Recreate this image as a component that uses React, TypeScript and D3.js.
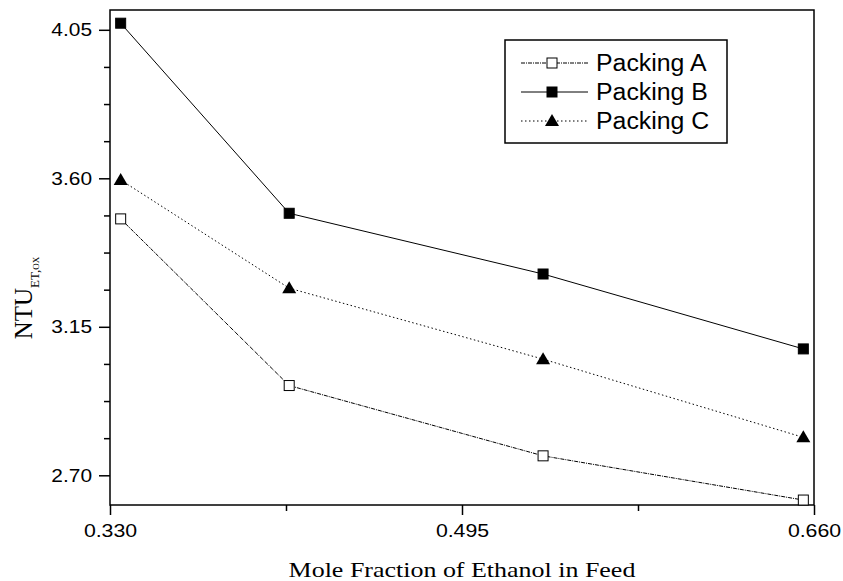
import React, { useEffect, useRef } from 'react';
import * as d3 from 'd3';

// values
const feedFraction = [0.335, 0.414, 0.533, 0.655];
const packingA = [3.477, 2.972, 2.759, 2.625];
const packingB = [4.07, 3.494, 3.31, 3.083];
const packingC = [3.595, 3.267, 3.052, 2.815];
const seriesNames = ['Packing A', 'Packing B', 'Packing C'];
const xMajorTicks = [0.33, 0.495, 0.66];
const xMinorTicks = [0.4125, 0.5775];
const yMajorTicks = [2.7, 3.15, 3.6, 4.05];
const yMinorTicks = [2.8125, 2.925, 3.0375, 3.2625, 3.375, 3.4875, 3.7125, 3.825, 3.9375];

const SANS = '"Liberation Sans", Arial, sans-serif';
const SERIF = '"Liberation Serif", "Times New Roman", serif';

// the reference picture is a bit wider than tall, so text is stretched sideways
const stretch = (sel: any, k: number) =>
  sel.each(function (this: SVGTextElement) {
    const w = this.getComputedTextLength();
    d3.select(this).attr('textLength', w * k).attr('lengthAdjust', 'spacingAndGlyphs');
  });

const App = () => {
  const svgRef = useRef<SVGSVGElement>(null);

  useEffect(() => {
    const svg = d3.select(svgRef.current);
    svg.selectAll('*').remove();

    const margin = { top: 10, right: 29, bottom: 76, left: 110 };
    const W = 843, H = 581;
    const width = W - margin.left - margin.right;
    const height = H - margin.top - margin.bottom;

    const x = d3.scaleLinear().domain([0.33, 0.66]).range([0, width]);
    const y = d3.scaleLinear().domain([2.61, 4.11]).range([height, 0]);

    const g = svg.append('g').attr('transform', `translate(${margin.left},${margin.top})`);

    // minor ticks
    g.append('g')
      .attr('transform', `translate(0,${height})`)
      .call(d3.axisBottom(x).tickValues(xMinorTicks).tickSize(6).tickFormat(() => ''))
      .call(a => a.select('.domain').remove())
      .selectAll('line').attr('stroke-width', 1.5);
    g.append('g')
      .call(d3.axisLeft(y).tickValues(yMinorTicks).tickSize(6).tickFormat(() => ''))
      .call(a => a.select('.domain').remove())
      .selectAll('line').attr('stroke-width', 1.5);

    // major ticks + labels
    const xAxis = g.append('g')
      .attr('transform', `translate(0,${height})`)
      .call(d3.axisBottom(x).tickValues(xMajorTicks).tickSize(10).tickPadding(9).tickFormat(d3.format('.3f')));
    xAxis.select('.domain').remove();
    xAxis.selectAll('line').attr('stroke-width', 1.5);
    xAxis.selectAll('text').style('font-family', SANS).style('font-size', '19px').attr('fill', '#000')
      .call(stretch, 1.12);

    const yAxis = g.append('g')
      .call(d3.axisLeft(y).tickValues(yMajorTicks).tickSize(11).tickPadding(7).tickFormat(d3.format('.2f')));
    yAxis.select('.domain').remove();
    yAxis.selectAll('line').attr('stroke-width', 1.5);
    yAxis.selectAll('text').style('font-family', SANS).style('font-size', '19px').attr('fill', '#000')
      .call(stretch, 1.1);

    // frame
    g.append('rect')
      .attr('width', width).attr('height', height)
      .attr('fill', 'none').attr('stroke', '#000').attr('stroke-width', 1.5);

    const series = [
      { name: seriesNames[0], values: packingA, dash: '4,1,1,1', marker: 'open' },
      { name: seriesNames[1], values: packingB, dash: null, marker: 'square' },
      { name: seriesNames[2], values: packingC, dash: '1.5,2.5', marker: 'triangle' },
    ];

    const line = d3.line<number>()
      .x((d, i) => x(feedFraction[i]))
      .y(d => y(d));

    const drawMarker = (sel: any, kind: string, cx: number, cy: number) => {
      if (kind === 'triangle') {
        sel.append('path')
          .attr('d', `M${cx},${cy - 7} L${cx + 7},${cy + 5} L${cx - 7},${cy + 5} Z`)
          .attr('fill', '#000');
      } else {
        sel.append('rect')
          .attr('x', cx - 5).attr('y', cy - 5).attr('width', 10).attr('height', 10)
          .attr('fill', kind === 'open' ? '#fff' : '#000')
          .attr('stroke', '#000').attr('stroke-width', 1);
      }
    };

    series.forEach(s => {
      g.append('path')
        .datum(s.values)
        .attr('d', line)
        .attr('fill', 'none')
        .attr('stroke', '#000')
        .attr('stroke-width', 1)
        .attr('stroke-dasharray', s.dash);
      s.values.forEach((v, i) => drawMarker(g, s.marker, x(feedFraction[i]), y(v)));
    });

    // legend
    const legend = svg.append('g');
    legend.append('rect')
      .attr('x', 505).attr('y', 40).attr('width', 222).attr('height', 103)
      .attr('fill', '#fff').attr('stroke', '#000').attr('stroke-width', 1.5);
    series.forEach((s, i) => {
      const ly = 63 + i * 29;
      legend.append('line')
        .attr('x1', 521).attr('x2', 588).attr('y1', ly).attr('y2', ly)
        .attr('stroke', '#000').attr('stroke-width', 1)
        .attr('stroke-dasharray', s.dash);
      drawMarker(legend, s.marker, 552, ly);
      legend.append('text')
        .attr('x', 596).attr('y', ly + 8)
        .style('font-family', SANS).style('font-size', '23px')
        .text(s.name)
        .call(stretch, 1.08);
    });

    // axis titles
    svg.append('text')
      .attr('x', margin.left + width / 2).attr('y', 577)
      .attr('text-anchor', 'middle')
      .style('font-family', SERIF).style('font-size', '22px')
      .text('Mole Fraction of Ethanol in Feed')
      .call(stretch, 1.18);

    const yTitle = svg.append('text')
      .attr('transform', `translate(32, 298) rotate(-90)`)
      .attr('text-anchor', 'middle')
      .style('font-family', SERIF).style('font-size', '25px');
    yTitle.append('tspan').text('NTU');
    yTitle.append('tspan')
      .attr('dy', 7)
      .style('font-size', '13px')
      .style('font-variant', 'small-caps')
      .text('ET,ox');
  }, []);

  return (
    <svg
      ref={svgRef}
      width={843}
      height={581}
      style={{ position: 'absolute', left: 0, top: 0, background: '#fff' }}
    />
  );
};

export default App;
